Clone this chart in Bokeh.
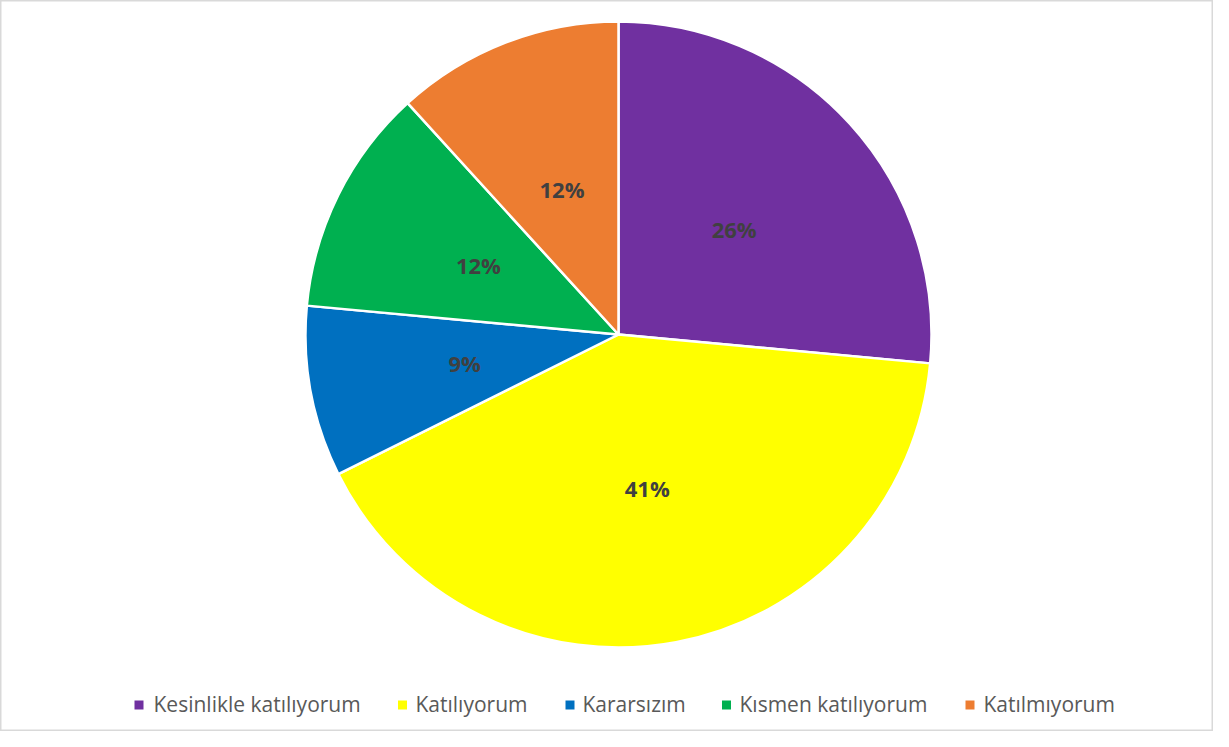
import math
from bokeh.plotting import figure
from bokeh.models import Range1d, ColumnDataSource
from bokeh.core.properties import value
from bokeh.embed import file_html
from bokeh.resources import INLINE

# ---- data ----
categories = ["Kesinlikle katılıyorum", "Katılıyorum", "Kararsızım", "Kısmen katılıyorum", "Katılmıyorum"]
counts = [45, 70, 15, 20, 20]
colors = ["#7030A0", "#FFFF00", "#0070C0", "#00B050", "#ED7D31"]

# ---- layout ----
W, H = 1213, 731
PAGE_H = 747
cx, cy = 626, PAGE_H - 342
R = 313
legend_sq_x = [146.5, 410, 577.5, 734, 977.5]
legend_tx_x = [161, 423, 590, 747, 991]
legend_sq_y = PAGE_H - 712.5
legend_tx_y = PAGE_H - 711

total = sum(counts)
fracs = [c / total for c in counts]
starts, ends, lx, ly, labels = [], [], [], [], []
acc = 0.0
for f in fracs:
    a0 = math.pi / 2 - 2 * math.pi * acc
    a1 = math.pi / 2 - 2 * math.pi * (acc + f)
    starts.append(a0)
    ends.append(a1)
    mid = (a0 + a1) / 2
    lx.append(cx + 0.5 * R * math.cos(mid))
    ly.append(cy + 0.5 * R * math.sin(mid))
    labels.append(f"{round(f * 100)}%")
    acc += f

src = ColumnDataSource(dict(start=starts, end=ends, color=colors, lx=lx, ly=ly, label=labels,
                            cat=categories, sqx=legend_sq_x, tx=legend_tx_x,
                            sqy=[legend_sq_y] * 5, ty=[legend_tx_y] * 5))

p = figure(width=W, height=H, output_backend="svg", toolbar_location=None,
           x_range=Range1d(8, 8 + W), y_range=Range1d(PAGE_H - 8 - H, PAGE_H - 8),
           min_border=0)
p.axis.visible = False
p.grid.visible = False
p.background_fill_color = "white"
p.border_fill_color = "white"
p.outline_line_color = "#D9D9D9"
p.outline_line_width = 2

p.wedge(x=cx, y=cy, radius=R, start_angle="start", end_angle="end", direction="clock",
        fill_color="color", line_color="white", line_width=2.5, source=src)

p.text(x="lx", y="ly", text="label", source=src, text_align="center", text_baseline="middle",
       text_font=value("Open Sans"), text_font_style="bold", text_font_size="22px",
       text_color="#404040")

p.scatter(x="sqx", y="sqy", marker="square", size=9, fill_color="color", line_color=None, source=src)
p.text(x="tx", y="ty", text="cat", source=src, text_align="left", text_baseline="middle",
       text_font=value("Open Sans"), text_font_size="21px", text_color="#595959")

open("out.html", "w").write(file_html(p, INLINE))
